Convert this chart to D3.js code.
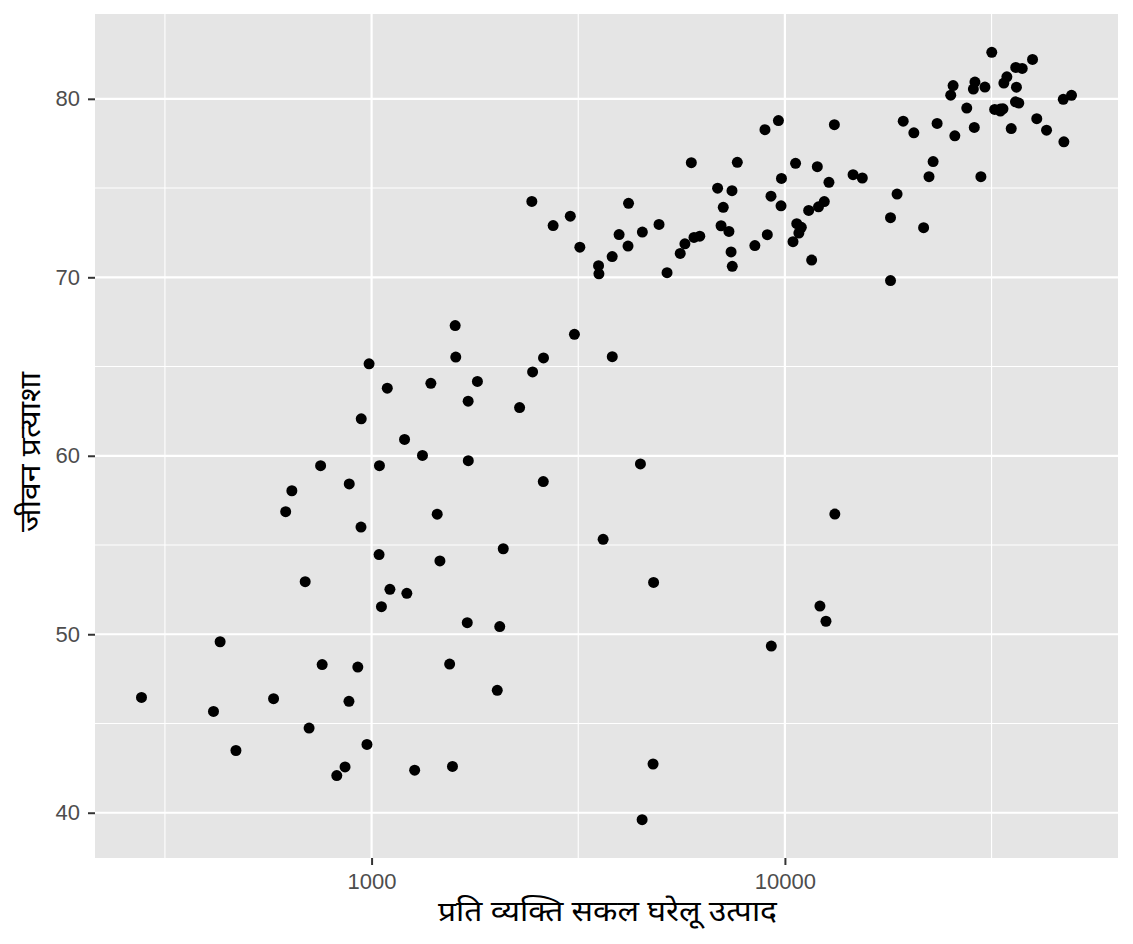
<!DOCTYPE html>
<html>
<head>
<meta charset="utf-8">
<script src="https://cdn.jsdelivr.net/npm/d3@7"></script>
<style>
html,body{margin:0;padding:0;background:#fff;}
svg{display:block;}
</style>
</head>
<body>
<svg id="chart" width="1133" height="944"></svg>
<script>
const countries = ["Afghanistan","Albania","Algeria","Angola","Argentina","Australia","Austria","Bahrain","Bangladesh","Belgium","Benin","Bolivia","Bosnia and Herzegovina","Botswana","Brazil","Bulgaria","Burkina Faso","Burundi","Cambodia","Cameroon","Canada","Central African Republic","Chad","Chile","China","Colombia","Comoros","Congo, Dem. Rep.","Congo, Rep.","Costa Rica","Cote d'Ivoire","Croatia","Cuba","Czech Republic","Denmark","Djibouti","Dominican Republic","Ecuador","Egypt","El Salvador","Equatorial Guinea","Eritrea","Ethiopia","Finland","France","Gabon","Gambia","Germany","Ghana","Greece","Guatemala","Guinea","Guinea-Bissau","Haiti","Honduras","Hong Kong","Hungary","Iceland","India","Indonesia","Iran","Iraq","Ireland","Israel","Italy","Jamaica","Japan","Jordan","Kenya","Korea, Dem. Rep.","Korea, Rep.","Kuwait","Lebanon","Lesotho","Liberia","Libya","Madagascar","Malawi","Malaysia","Mali","Mauritania","Mauritius","Mexico","Mongolia","Montenegro","Morocco","Mozambique","Myanmar","Namibia","Nepal","Netherlands","New Zealand","Nicaragua","Niger","Nigeria","Norway","Oman","Pakistan","Panama","Paraguay","Peru","Philippines","Poland","Portugal","Puerto Rico","Reunion","Romania","Rwanda","Sao Tome and Principe","Saudi Arabia","Senegal","Serbia","Sierra Leone","Singapore","Slovak Republic","Slovenia","Somalia","South Africa","Spain","Sri Lanka","Sudan","Swaziland","Sweden","Switzerland","Syria","Taiwan","Tanzania","Thailand","Togo","Trinidad and Tobago","Tunisia","Turkey","Uganda","United Kingdom","United States","Uruguay","Venezuela","Vietnam","West Bank and Gaza","Yemen","Zambia","Zimbabwe"];

const gdpPercap = [974.58,5937.03,6223.37,4797.23,12779.38,34435.37,36126.49,29796.05,1391.25,33692.61,1441.28,3822.14,7446.30,12569.85,9065.80,10680.79,1217.03,430.07,1713.78,2042.10,36319.24,706.02,1704.06,13171.64,4959.11,7006.58,986.15,277.55,3632.56,9645.06,1544.75,14619.22,8948.10,22833.31,35278.42,2082.48,6025.37,6873.26,5581.18,5728.35,12154.09,641.37,690.81,33207.08,30470.02,13206.48,752.75,32170.37,1327.61,27538.41,5186.05,942.65,579.23,1201.64,3548.33,39724.98,18008.94,36180.79,2452.21,3540.65,11605.71,4471.06,40676.00,25523.28,28569.72,7320.88,31656.07,4519.46,1463.25,1593.07,23348.14,47306.99,10461.06,1569.33,414.51,12057.50,1044.77,759.35,12451.66,1042.58,1803.15,10956.99,11977.57,3095.77,9253.90,3820.18,823.69,944.00,4811.06,1091.36,36797.93,25185.01,2749.32,619.68,2013.98,49357.19,22316.19,2605.95,9809.19,4172.84,7408.91,3190.48,15389.92,20509.65,19328.71,7670.12,10808.48,881.57,1598.44,21654.83,1712.47,9786.53,862.54,47143.18,18678.31,25768.26,926.14,9269.66,28821.06,3970.10,2602.39,4513.48,33859.75,37506.42,4184.55,28718.28,1107.48,7458.40,882.97,18008.51,7092.92,8458.28,1056.38,33203.26,42951.65,10611.46,11415.81,2441.58,3025.35,2280.77,1271.21,469.71];

const lifeExp = [43.828,76.423,72.301,42.731,75.320,81.235,79.829,75.635,64.062,79.441,56.728,65.554,74.852,50.728,72.390,73.005,52.295,49.580,59.723,50.430,80.653,44.741,50.651,78.553,72.961,72.889,65.152,46.462,55.322,78.782,48.328,75.748,78.273,76.486,78.332,54.791,72.235,74.994,71.338,71.878,51.579,58.040,52.947,79.313,80.657,56.735,59.448,79.406,60.022,79.483,70.259,56.007,46.388,60.916,70.198,82.208,73.338,81.757,64.698,70.650,70.964,59.545,78.885,80.745,80.546,72.567,82.603,72.535,54.110,67.297,78.623,77.588,71.993,42.592,45.678,73.952,59.443,48.303,74.241,54.467,64.164,72.801,76.195,66.803,74.543,71.164,42.082,62.069,52.906,63.785,79.762,80.204,72.899,56.867,46.859,80.196,75.640,65.483,75.537,71.752,71.421,71.688,75.563,78.098,78.746,76.442,72.476,46.242,65.528,72.777,63.062,74.002,42.568,79.972,74.663,77.926,48.159,49.339,80.941,72.396,58.556,39.613,80.884,81.701,74.143,78.400,52.517,70.616,58.420,69.819,73.923,71.777,51.542,79.425,78.242,76.384,73.747,74.249,73.422,62.698,42.384,43.487];

const xTicks = [1000, 10000];
const xMinor = [316.2278, 3162.278, 31622.78];
const yTicks = [40, 50, 60, 70, 80];
const yMinor = [45, 55, 65, 75];

const xTitle = "प्रति व्यक्ति सकल घरेलू उत्पाद";
const yTitle = "जीवन प्रत्याशा";

const W = 1133, H = 944;
const m = {left: 95, top: 14, right: 15, bottom: 86};
const pw = W - m.left - m.right, ph = H - m.top - m.bottom;

const svg = d3.select("#chart");

const lx = gdpPercap.map(v => Math.log10(v));
const lxMin = d3.min(lx), lxMax = d3.max(lx);
const lxPad = (lxMax - lxMin) * 0.05;
const x = d3.scaleLog()
  .domain([Math.pow(10, lxMin - lxPad), Math.pow(10, lxMax + lxPad)])
  .range([m.left, m.left + pw]);

const yMin = d3.min(lifeExp), yMax = d3.max(lifeExp);
const yPad = (yMax - yMin) * 0.05;
const y = d3.scaleLinear()
  .domain([yMin - yPad, yMax + yPad])
  .range([m.top + ph, m.top]);

svg.append("rect").attr("x", m.left).attr("y", m.top).attr("width", pw).attr("height", ph).attr("fill", "#E5E5E5");

const g = svg.append("g");
g.selectAll(".xminor").data(xMinor).join("line")
  .attr("x1", d => x(d)).attr("x2", d => x(d)).attr("y1", m.top).attr("y2", m.top + ph)
  .attr("stroke", "#fff").attr("stroke-width", 1.1);
g.selectAll(".yminor").data(yMinor).join("line")
  .attr("y1", d => y(d)).attr("y2", d => y(d)).attr("x1", m.left).attr("x2", m.left + pw)
  .attr("stroke", "#fff").attr("stroke-width", 1.1);
g.selectAll(".xmajor").data(xTicks).join("line")
  .attr("x1", d => x(d)).attr("x2", d => x(d)).attr("y1", m.top).attr("y2", m.top + ph)
  .attr("stroke", "#fff").attr("stroke-width", 2.2);
g.selectAll(".ymajor").data(yTicks).join("line")
  .attr("y1", d => y(d)).attr("y2", d => y(d)).attr("x1", m.left).attr("x2", m.left + pw)
  .attr("stroke", "#fff").attr("stroke-width", 2.2);

// axes
const xAxis = d3.axisBottom(x).tickValues(xTicks).tickFormat(d3.format("d")).tickSize(7).tickPadding(8);
const xa = svg.append("g").attr("transform", `translate(0,${m.top + ph})`).call(xAxis);
const yAxis = d3.axisLeft(y).tickValues(yTicks).tickSize(7).tickPadding(8);
const ya = svg.append("g").attr("transform", `translate(${m.left},0)`).call(yAxis);
[xa, ya].forEach(a => {
  a.select(".domain").remove();
  a.selectAll(".tick line").attr("stroke", "#333333").attr("stroke-width", 2);
  a.selectAll(".tick text").attr("fill", "#4D4D4D").attr("font-size", 22)
    .attr("font-family", "'Liberation Sans', Arial, sans-serif");
});

// points
svg.append("g").selectAll("circle").data(countries).join("circle")
  .attr("cx", (d, i) => x(gdpPercap[i]))
  .attr("cy", (d, i) => y(lifeExp[i]))
  .attr("r", 5.5)
  .attr("fill", "#000");

// titles
svg.append("text").attr("x", m.left + pw / 2 + 1).attr("y", 921)
  .attr("text-anchor", "middle").attr("font-size", 28).attr("fill", "#000")
  .attr("font-family", "'Noto Sans', 'Noto Sans Devanagari', sans-serif")
  .attr("textLength", 339).attr("lengthAdjust", "spacingAndGlyphs")
  .text(xTitle);
svg.append("text").attr("transform", `translate(40,${m.top + ph / 2 + 16}) rotate(-90)`)
  .attr("text-anchor", "middle").attr("font-size", 28).attr("fill", "#000")
  .attr("font-family", "'Noto Sans', 'Noto Sans Devanagari', sans-serif")
  .attr("textLength", 160).attr("lengthAdjust", "spacingAndGlyphs")
  .text(yTitle);
</script>
</body>
</html>
